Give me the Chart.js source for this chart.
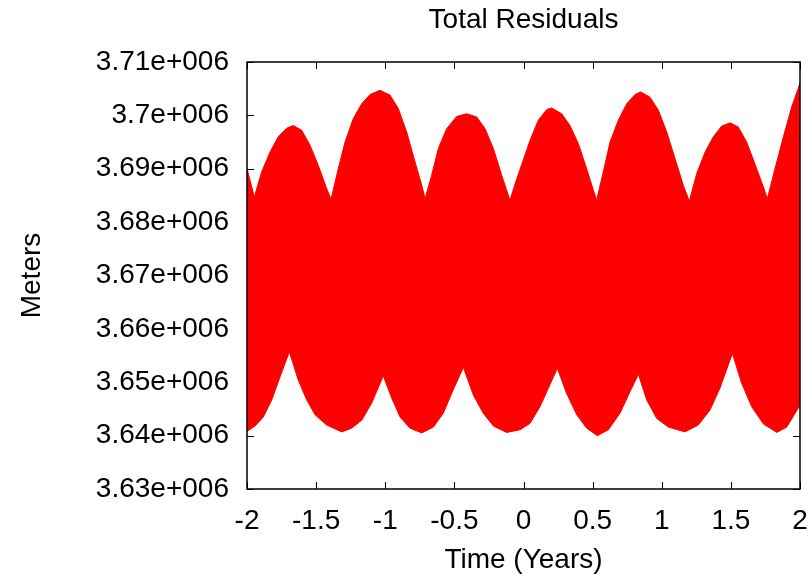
<!DOCTYPE html>
<html>
<head>
<meta charset="utf-8">
<title>Total Residuals</title>
<script src="https://cdn.jsdelivr.net/npm/chart.js@4.4.1/dist/chart.umd.min.js"></script>
<style>
  html, body { margin: 0; padding: 0; background: #fff; }
  canvas { display: block; }
</style>
</head>
<body>
<canvas id="chart" width="812" height="578"></canvas>
<script>
// upper envelope of the residual band (time in years, metres)
const upperTime = [
  -2.000, -1.947, -1.894, -1.834, -1.774, -1.713, -1.665, -1.604, -1.544, -1.484,
  -1.424, -1.392, -1.340, -1.291, -1.231, -1.170, -1.110, -1.038, -0.966, -0.906,
  -0.845, -0.785, -0.736, -0.712, -0.664, -0.616, -0.556, -0.483, -0.411, -0.338,
  -0.278, -0.218, -0.158, -0.098, -0.049, 0.006, 0.047, 0.107, 0.168, 0.204,
  0.276, 0.336, 0.397, 0.457, 0.505, 0.529, 0.577, 0.626, 0.686, 0.747,
  0.807, 0.848, 0.915, 0.975, 1.036, 1.096, 1.156, 1.199, 1.253, 1.313,
  1.373, 1.434, 1.494, 1.554, 1.614, 1.674, 1.735, 1.764, 1.819, 1.880,
  1.940, 2.000
];
const upperMeters = [
  3690000, 3684700, 3689400, 3693100, 3696000, 3697600, 3698100, 3697200, 3694400, 3690600,
  3686300, 3684300, 3690000, 3695000, 3699400, 3702200, 3703900, 3704700, 3703800, 3701300,
  3696900, 3691300, 3686900, 3684400, 3688800, 3693800, 3697500, 3699800, 3700300, 3699700,
  3697500, 3693800, 3688800, 3684100, 3688100, 3692200, 3695300, 3699100, 3701100, 3701400,
  3700300, 3698100, 3694700, 3690000, 3686000, 3684100, 3689400, 3695000, 3699100, 3702200,
  3703900, 3704400, 3703400, 3701000, 3696900, 3691900, 3686900, 3683900, 3689100, 3693100,
  3696000, 3698000, 3698600, 3697800, 3695000, 3690900, 3686600, 3684400, 3690000, 3696000,
  3701600, 3706000
];

// lower envelope of the residual band
const lowerTime = [
  -2.000, -1.942, -1.882, -1.821, -1.761, -1.694, -1.629, -1.568, -1.508, -1.424,
  -1.315, -1.243, -1.170, -1.098, -1.014, -0.953, -0.893, -0.821, -0.736, -0.652,
  -0.580, -0.508, -0.435, -0.363, -0.291, -0.218, -0.122, -0.025, 0.047, 0.119,
  0.180, 0.245, 0.312, 0.385, 0.457, 0.534, 0.614, 0.698, 0.770, 0.831,
  0.891, 0.964, 1.048, 1.168, 1.265, 1.349, 1.421, 1.511, 1.578, 1.651,
  1.735, 1.832, 1.904, 2.000
];
const lowerMeters = [
  3640800, 3641800, 3643500, 3646700, 3651000, 3655700, 3650400, 3646700, 3643900, 3642000,
  3640700, 3641400, 3642900, 3646100, 3651200, 3647000, 3643500, 3641400, 3640500, 3641600,
  3644200, 3648600, 3652800, 3647600, 3644200, 3641800, 3640600, 3641100, 3642300, 3645400,
  3648900, 3652600, 3647900, 3643900, 3641400, 3640000, 3641100, 3644200, 3648200, 3651500,
  3646700, 3643200, 3641600, 3640700, 3642000, 3644800, 3648900, 3655400, 3649800, 3645400,
  3642200, 3640600, 3641600, 3645700
];

const yTicks = [3630000, 3640000, 3650000, 3660000, 3670000, 3680000, 3690000, 3700000, 3710000];
const xTicks = [-2, -1.5, -1, -0.5, 0, 0.5, 1, 1.5, 2];

const FONT = { family: "'Liberation Sans', Arial, sans-serif", size: 28 };
const TICK_LEN = 7;

const pts = (xs, ys) => xs.map((x, i) => ({ x: x, y: ys[i] }));

// horizontal axes: keep the plot box fixed, no extra room for end labels
const fixHeight = h => s => {
  s.height = h;
  s.paddingLeft = 0;
  s.paddingRight = 0;
};

// gnuplot-like frame: inward ticks on all four sides under the data, border on top
const framePlugin = {
  id: 'frame',
  beforeDatasetsDraw(chart) {
    const { ctx, chartArea: a, scales } = chart;
    ctx.save();
    ctx.strokeStyle = '#000';
    ctx.lineWidth = 1;
    ctx.beginPath();
    xTicks.forEach(v => {
      const px = Math.round(scales.x.getPixelForValue(v)) + 0.5;
      ctx.moveTo(px, a.bottom); ctx.lineTo(px, a.bottom - TICK_LEN);
      ctx.moveTo(px, a.top); ctx.lineTo(px, a.top + TICK_LEN);
    });
    yTicks.forEach(v => {
      const py = Math.round(scales.y.getPixelForValue(v)) + 0.5;
      ctx.moveTo(a.left, py); ctx.lineTo(a.left + TICK_LEN, py);
      ctx.moveTo(a.right, py); ctx.lineTo(a.right - TICK_LEN, py);
    });
    ctx.stroke();
    ctx.restore();
  },
  afterDatasetsDraw(chart) {
    const { ctx, chartArea: a } = chart;
    ctx.save();
    ctx.strokeStyle = '#000';
    ctx.lineWidth = 1.5;
    ctx.strokeRect(a.left, a.top, a.right - a.left, a.bottom - a.top);
    ctx.restore();
  }
};

new Chart(document.getElementById('chart'), {
  type: 'line',
  data: {
    datasets: [
      {
        label: 'upper',
        data: pts(upperTime, upperMeters),
        borderColor: '#ff0000',
        backgroundColor: '#ff0000',
        borderWidth: 1,
        pointRadius: 0,
        tension: 0,
        fill: '+1'
      },
      {
        label: 'lower',
        data: pts(lowerTime, lowerMeters),
        borderColor: '#ff0000',
        borderWidth: 1,
        pointRadius: 0,
        tension: 0,
        fill: false
      }
    ]
  },
  options: {
    responsive: false,
    animation: false,
    devicePixelRatio: 1,
    layout: { padding: { left: 0, right: 12, top: 0, bottom: 0 } },
    plugins: {
      legend: { display: false },
      tooltip: { enabled: false }
    },
    scales: {
      x: {
        type: 'linear',
        position: 'bottom',
        min: -2,
        max: 2,
        afterFit: fixHeight(89),
        afterBuildTicks: s => { s.ticks = xTicks.map(v => ({ value: v })); },
        ticks: {
          color: '#000',
          font: FONT,
          padding: 15,
          maxRotation: 0,
          autoSkip: false,
          callback: v => String(v)
        },
        grid: { display: false, drawTicks: false },
        border: { display: false },
        title: {
          display: true,
          text: 'Time (Years)',
          color: '#000',
          font: FONT,
          padding: { top: 0, bottom: 1 }
        }
      },
      top: {
        type: 'linear',
        position: 'top',
        min: -2,
        max: 2,
        afterFit: fixHeight(62),
        ticks: { display: false },
        grid: { display: false, drawTicks: false },
        border: { display: false },
        title: {
          display: true,
          text: 'Total Residuals',
          color: '#000',
          font: FONT,
          padding: { top: 3, bottom: 0 }
        }
      },
      y: {
        type: 'linear',
        min: 3630000,
        max: 3710000,
        afterFit: s => { s.width = 247; },
        afterBuildTicks: s => { s.ticks = yTicks.map(v => ({ value: v })); },
        ticks: {
          color: '#000',
          font: FONT,
          padding: 18,
          autoSkip: false,
          callback: v => parseFloat((v / 1e6).toFixed(2)) + 'e+006'
        },
        grid: { display: false, drawTicks: false },
        border: { display: false },
        title: {
          display: true,
          text: 'Meters',
          color: '#000',
          font: FONT,
          padding: { top: 15, bottom: 0 }
        }
      }
    }
  },
  plugins: [framePlugin]
});
</script>
</body>
</html>
